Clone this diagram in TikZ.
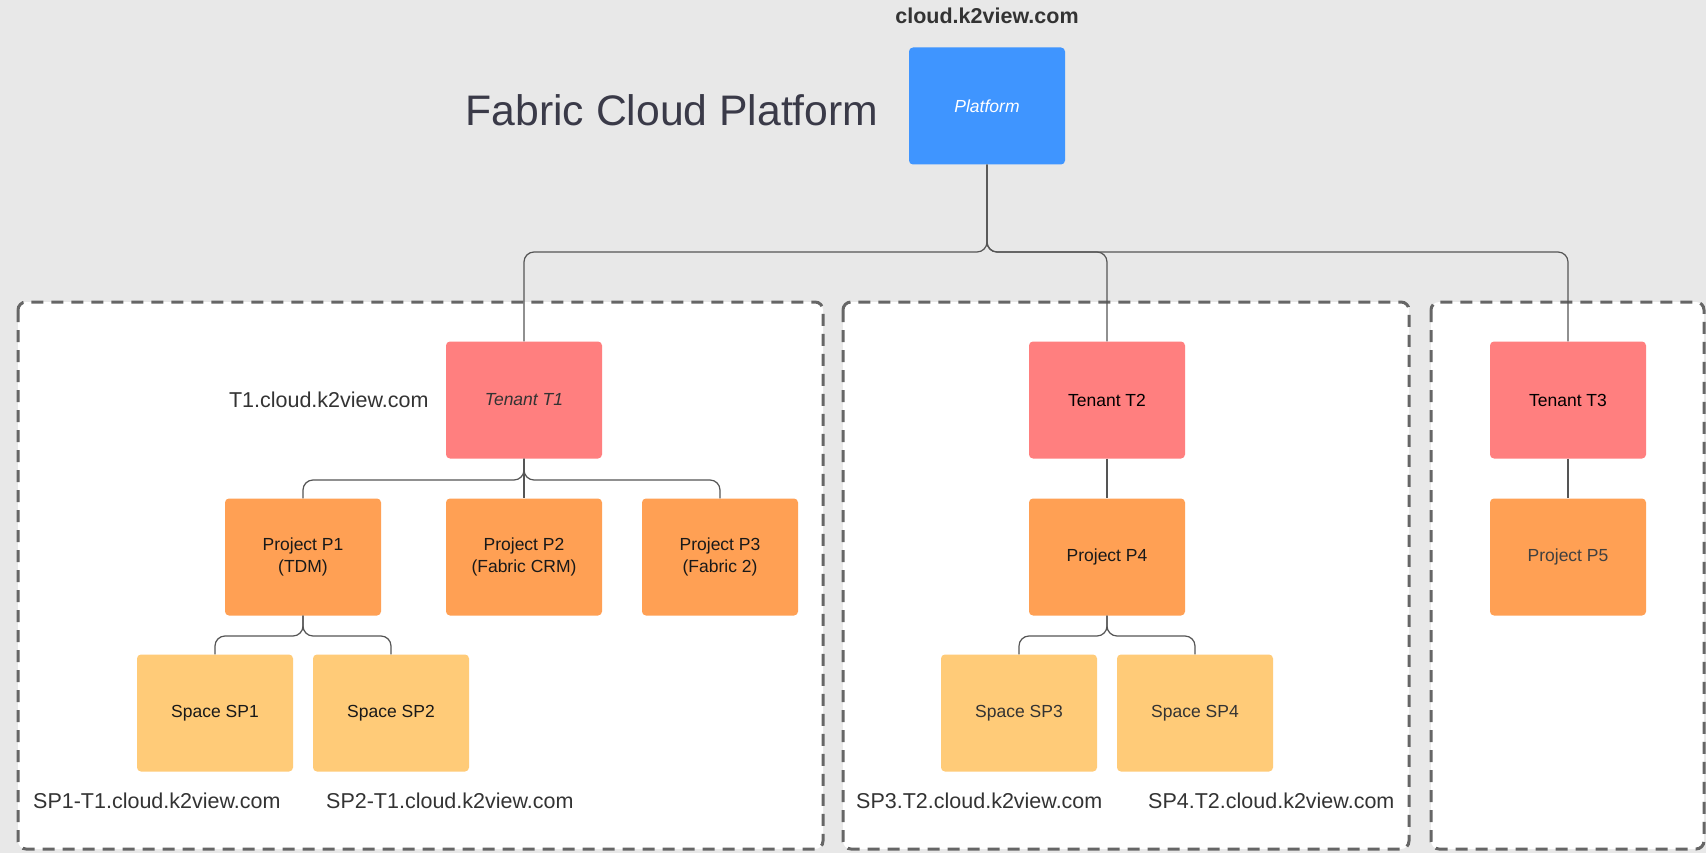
\documentclass[tikz,border=0pt]{standalone}
\usepackage{fontspec}
\setmainfont{Liberation Sans}
\usetikzlibrary{positioning}

\definecolor{canvas}{HTML}{E8E8E8}
\definecolor{platblue}{HTML}{3F95FF}
\definecolor{tenantred}{HTML}{FF7F7F}
\definecolor{projorange}{HTML}{FFA054}
\definecolor{spaceyellow}{HTML}{FFCB78}
\definecolor{linkgray}{HTML}{555555}
\definecolor{zonegray}{HTML}{666666}
\definecolor{inkgray}{HTML}{333333}
\definecolor{titleink}{HTML}{3A3A48}

\begin{document}
\begin{tikzpicture}[x=1pt, y=1pt,
      box/.style={rectangle, rounded corners=4pt, minimum width=156pt, minimum height=117pt,
                  inner sep=0pt, align=center, font=\fontsize{17.5}{21.5}\selectfont},
      platform_box/.style={box, fill=platblue, text=white, font=\fontsize{17.5}{21.5}\selectfont\itshape},
      tenant_box/.style={box, fill=tenantred, text=black},
      project_box/.style={box, fill=projorange, text=black!90},
      space_box/.style={box, fill=spaceyellow, text=black!90},
      url_text/.style={text=inkgray, inner sep=0pt, font=\fontsize{21.5}{25}\selectfont},
      link/.style={draw=linkgray, line width=1.2pt, rounded corners=10pt},
      zone/.style={draw=zonegray, fill=white, line width=3pt, dash pattern=on 12pt off 8pt, rounded corners=8pt}
  ]

  % Canvas and fixed page size
  \fill[canvas] (0,0) rectangle (1706,-853);
  \useasboundingbox (0,0) rectangle (1706,-853);

  % Dashed tenant zones
  \draw[zone] (18,-302) rectangle (823,-849);
  \draw[zone] (843,-302) rectangle (1409,-849);
  \draw[zone] (1431,-302) rectangle (1704,-849);

  % Levels of the branch lines
  \coordinate (bus0) at (0,-252);
  \coordinate (bus1) at (0,-480);
  \coordinate (bus2) at (0,-636);

  % Headings
  \node[font=\fontsize{21.5}{25}\selectfont\bfseries, text=inkgray] (host) at (987,-16) {cloud.k2view.com};
  \node[font=\fontsize{42.7}{48}\selectfont, text=titleink] (title) at (672,-110) {Fabric Cloud Platform};

  % Platform and tenants
  \node[platform_box] (plat) at (987,-106) {Platform};
  \node[tenant_box, text=inkgray, font=\fontsize{17.5}{21.5}\selectfont\itshape] (t1) at (524,-400) {Tenant T1};
  \node[tenant_box] (t2) at (1107,-400) {Tenant T2};
  \node[tenant_box] (t3) at (1568,-400) {Tenant T3};

  % Projects
  \node[project_box] (p1) at (303,-557) {Project P1\\(TDM)};
  \node[project_box] (p2) at (524,-557) {Project P2\\(Fabric CRM)};
  \node[project_box] (p3) at (720,-557) {Project P3\\(Fabric 2)};
  \node[project_box] (p4) at (1107,-557) {Project P4};
  \node[project_box, text=black!75] (p5) at (1568,-557) {Project P5};

  % Spaces
  \node[space_box] (sp1) at (215,-713) {Space SP1};
  \node[space_box] (sp2) at (391,-713) {Space SP2};
  \node[space_box, text=inkgray] (sp3) at (1019,-713) {Space SP3};
  \node[space_box, text=inkgray] (sp4) at (1195,-713) {Space SP4};

  % Branch lines
  \foreach \c in {t1,t2,t3}
    \draw[link] (plat.south) |- (\c.north |- bus0) -- (\c.north);
  \foreach \c in {p1,p3}
    \draw[link] (t1.south) |- (\c.north |- bus1) -- (\c.north);
  \draw[link] (t1.south) -- (p2.north);
  \foreach \c in {sp1,sp2}
    \draw[link] (p1.south) |- (\c.north |- bus2) -- (\c.north);
  \foreach \c in {sp3,sp4}
    \draw[link] (p4.south) |- (\c.north |- bus2) -- (\c.north);
  \draw[link] (t2.south) -- (p4.north);
  \draw[link] (t3.south) -- (p5.north);

  % Host names
  \node[url_text, left=17pt of t1] (t1url) {T1.cloud.k2view.com};
  \node[url_text, anchor=west] (sp1url) at (33,-801) {SP1-T1.cloud.k2view.com};
  \node[url_text, anchor=west] (sp2url) at (326,-801) {SP2-T1.cloud.k2view.com};
  \node[url_text, anchor=west] (sp3url) at (856,-801) {SP3.T2.cloud.k2view.com};
  \node[url_text, anchor=west] (sp4url) at (1148,-801) {SP4.T2.cloud.k2view.com};

\end{tikzpicture}
\end{document}
